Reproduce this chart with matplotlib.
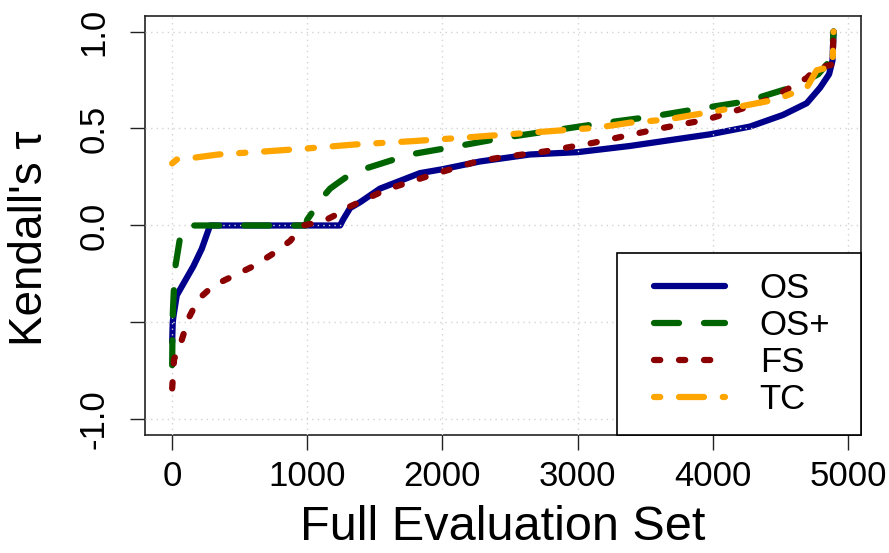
import matplotlib
matplotlib.use("Agg")
import matplotlib.pyplot as plt
from matplotlib.lines import Line2D
from matplotlib.legend_handler import HandlerLine2D

plt.rcParams['font.family'] = ['Liberation Sans', 'DejaVu Sans']

# sorted per-query Kendall's tau
os_x = [1, 5, 10, 35, 84, 158, 220, 281, 1243, 1265, 1317, 1391, 1538, 1834, 2000, 2278,
        2648, 3000, 3388, 3979, 4275, 4519, 4694, 4793, 4860, 4885, 4893]
os_y = [-0.60, -0.50, -0.47, -0.36, -0.30, -0.21, -0.12, 0.0, 0.0, 0.03, 0.09, 0.12, 0.19, 0.27,
        0.29, 0.33, 0.366, 0.378, 0.41, 0.47, 0.51, 0.57, 0.63, 0.71, 0.78, 0.85, 1.0]

osp_x = [1, 3, 6, 15, 25, 60, 100, 990, 1000, 1050, 1095, 1169, 1218, 1300, 1415, 1760, 2081,
         2451, 2870, 3166, 3536, 3881, 4250, 4620, 4780, 4880, 4893]
osp_y = [-0.72, -0.57, -0.45, -0.31, -0.21, -0.06, 0.0, 0.0, 0.03, 0.08, 0.13, 0.19, 0.215,
         0.255, 0.29, 0.366, 0.405, 0.452, 0.495, 0.526, 0.56, 0.60, 0.64, 0.72, 0.78, 0.86, 1.0]

fs_x = [1, 15, 72, 121, 195, 306, 454, 601, 737, 873, 971, 1119, 1267, 1292, 1588, 1908, 2254,
        2426, 2771, 3115, 3289, 3609, 3955, 4275, 4445, 4694, 4768, 4885, 4893]
fs_y = [-0.84, -0.69, -0.59, -0.48, -0.38, -0.31, -0.26, -0.21, -0.15, -0.08, 0.0, 0.022, 0.074,
        0.09, 0.186, 0.258, 0.33, 0.35, 0.383, 0.426, 0.452, 0.50, 0.546, 0.615, 0.66, 0.76,
        0.81, 0.83, 1.0]

tc_x = [1, 35, 158, 342, 651, 996, 1341, 1785, 2204, 2697, 3141, 3388, 3659, 4103, 4472, 4694,
        4768, 4885, 4893]
tc_y = [0.32, 0.34, 0.349, 0.366, 0.38, 0.397, 0.417, 0.435, 0.455, 0.481, 0.504, 0.53, 0.546,
        0.60, 0.65, 0.71, 0.80, 0.82, 1.0]

labels = ['OS', 'OS+', 'FS', 'TC']
colors = ['#00008B', '#006400', '#8B0000', '#FFA500']

fig = plt.figure(figsize=(8.89, 5.53), dpi=100)
ax = fig.add_axes([0.1631, 0.2134, 0.8054, 0.7577])

lw = 4.5
ax.plot(os_x, os_y, color=colors[0], lw=lw, solid_capstyle='round', zorder=2, label=labels[0])
ax.plot(osp_x, osp_y, color=colors[1], lw=lw, dashes=(4, 4), dash_capstyle='round', zorder=4, label=labels[1])
ax.plot(fs_x, fs_y, color=colors[2], lw=lw, dashes=(1, 3), dash_capstyle='round', zorder=5, label=labels[2])
ax.plot(tc_x, tc_y, color=colors[3], lw=lw, dashes=(1, 3, 4, 3), dash_capstyle='round', zorder=6, label=labels[3])

# grid sits above the first curve, like the original
for gx in range(0, 5001, 1000):
    ax.axvline(gx, color='lightgray', lw=1, ls=(0, (1, 3)), zorder=3)
for gy in [-1.0, -0.5, 0.0, 0.5, 1.0]:
    ax.axhline(gy, color='lightgray', lw=1, ls=(0, (1, 3)), zorder=3)

ax.set_xlim(-200, 5096)
ax.set_ylim(-1.08, 1.08)
ax.set_xticks(range(0, 5001, 1000))
ax.set_yticks([-1.0, -0.5, 0.0, 0.5, 1.0])
ax.set_yticklabels(['-1.0', '', '0.0', '0.5', '1.0'], rotation=90, va='center')
ax.tick_params(direction='out', length=11, width=1, labelsize=25, color='#222222')
ax.tick_params(axis='x', pad=7)
ax.tick_params(axis='y', pad=14)
for s in ax.spines.values():
    s.set_linewidth(1.2)
    s.set_color('#222222')

ax.set_xlabel('Full Evaluation Set', fontsize=35, va='center')
ax.xaxis.set_label_coords(0.5, -0.2208)
ax.set_ylabel("Kendall's τ", fontsize=33, va='center')
ax.yaxis.set_label_coords(-0.16, 0.47)

leg_w = (861 - 617) / 716
leg = ax.legend(loc='lower right', bbox_to_anchor=(1 - leg_w, 0, leg_w, 1), mode='expand',
                borderaxespad=0, fontsize=25, frameon=True, fancybox=False,
                framealpha=1, edgecolor='black', borderpad=0.54, labelspacing=0.12,
                handlelength=3.08, handletextpad=0.49,
                handler_map={Line2D: HandlerLine2D(marker_pad=0.52, numpoints=2)})
leg.get_frame().set_linewidth(1.2)
leg.set_zorder(10)

fig.savefig('out.png', dpi=100)
